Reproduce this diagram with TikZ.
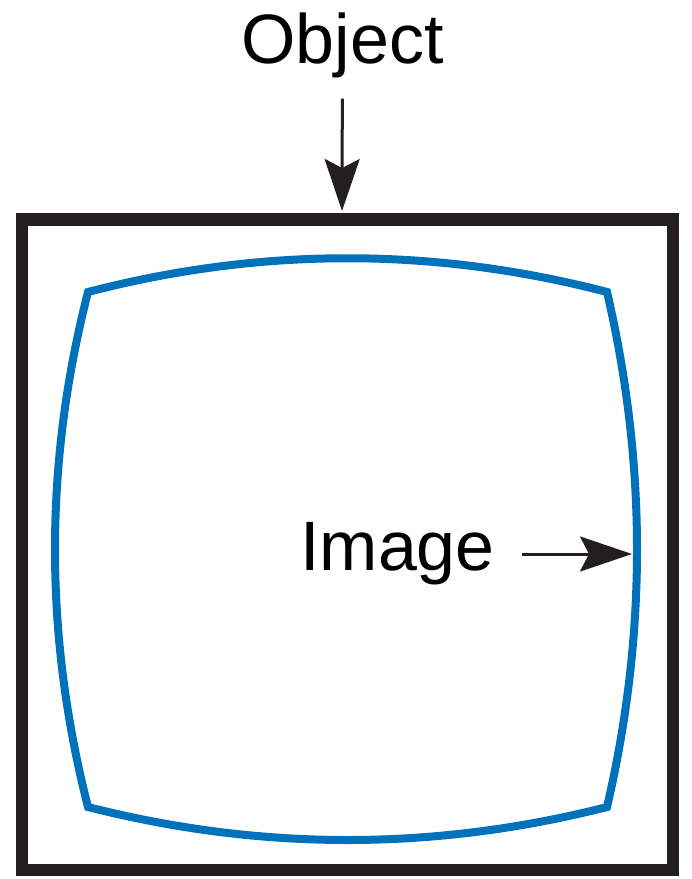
\documentclass[tikz,border=0pt]{standalone}
\usepackage{fontspec}
\setmainfont{Liberation Sans}
\usetikzlibrary{arrows.meta}
\definecolor{lensblue}{RGB}{0,114,188}
\definecolor{framegray}{RGB}{35,31,32}
\begin{document}
\begin{tikzpicture}[x=0.02cm, y=-0.02cm,
    >={Stealth[length=1.04cm, width=0.7cm, inset=0.18cm]},
    label/.style={font=\fontsize{39.8}{48}\selectfont, text=black},
    pointer/.style={->, line width=0.06cm, draw=framegray}]
        \useasboundingbox (0, 0) rectangle (692, 879);
        \draw[framegray, line width=0.25cm] (22, 219.5) rectangle (673, 870);
        \draw[lensblue, line width=0.16cm]
            (88, 292) .. controls (261, 247) and (434, 247) .. (607, 292)
            .. controls (647, 464) and (647, 635) .. (607, 807)
            .. controls (434, 851) and (261, 851) .. (88, 807)
            .. controls (44, 635) and (44, 464) .. cycle;
        \node[label, anchor=base] at (342.5, 63) (object) {Object};
        \node[label, anchor=base west, inner sep=0pt] at (300, 570) (image) {Image};
        \coordinate (frametop) at (342, 211);
        \coordinate (imageedge) at (632, 554);
        \draw[pointer, shorten <=0.3cm] (object) -- (frametop);
        \draw[pointer, shorten <=0.54cm] (image.east |- imageedge) -- (imageedge);
    \end{tikzpicture}
\end{document}
